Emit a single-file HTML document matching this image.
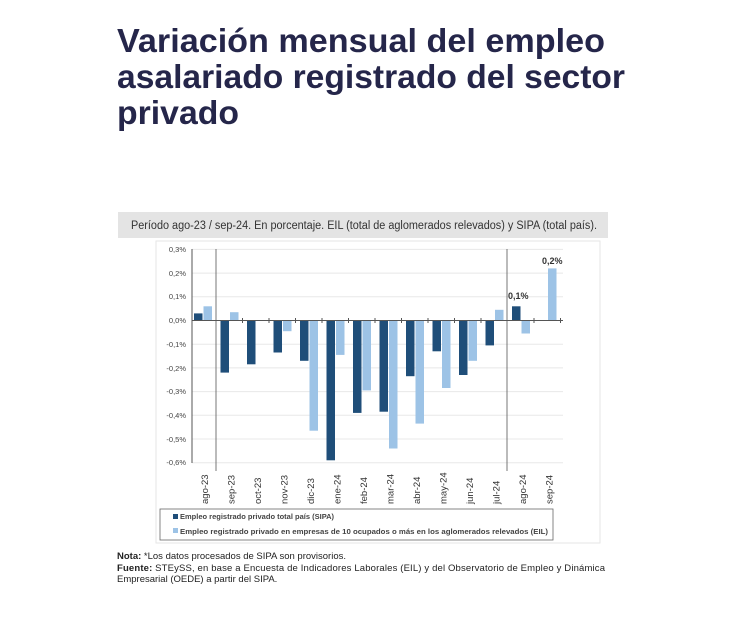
<!DOCTYPE html>
<html><head><meta charset="utf-8"><style>html,body{margin:0;padding:0;background:#fff;width:730px;height:622px;overflow:hidden}</style></head>
<body>
<svg width="730" height="622" viewBox="0 0 730 622" xmlns="http://www.w3.org/2000/svg" font-family="Liberation Sans, sans-serif">
<rect width="730" height="622" fill="#fff"/>
<g fill="#25264a" font-weight="bold" font-size="33">
<text x="117" y="52" textLength="488" lengthAdjust="spacingAndGlyphs">Variación mensual del empleo</text>
<text x="117" y="88" textLength="508" lengthAdjust="spacingAndGlyphs">asalariado registrado del sector</text>
<text x="117" y="124" textLength="122" lengthAdjust="spacingAndGlyphs">privado</text>
</g>
<rect x="118" y="212" width="490" height="26" fill="#e4e4e4"/>
<text x="131" y="229" font-size="11.5" fill="#333" textLength="466" lengthAdjust="spacingAndGlyphs">Período ago-23 / sep-24. En porcentaje. EIL (total de aglomerados relevados) y SIPA (total país).</text>
<rect x="156" y="241" width="444" height="302" fill="#fff" stroke="#e6e6e6"/>
<g stroke="#e8e8e8" stroke-width="1">
<line x1="192" x2="563" y1="249.4" y2="249.4"/><line x1="192" x2="563" y1="273.1" y2="273.1"/><line x1="192" x2="563" y1="296.8" y2="296.8"/>
<line x1="192" x2="563" y1="344.2" y2="344.2"/><line x1="192" x2="563" y1="367.9" y2="367.9"/><line x1="192" x2="563" y1="391.6" y2="391.6"/>
<line x1="192" x2="563" y1="415.3" y2="415.3"/><line x1="192" x2="563" y1="439" y2="439"/><line x1="192" x2="563" y1="462.7" y2="462.7"/>
</g>
<g font-size="7.5" fill="#444" text-anchor="end">
<text x="186" y="252">0,3%</text><text x="186" y="276">0,2%</text><text x="186" y="299">0,1%</text><text x="186" y="323">0,0%</text>
<text x="186" y="347">-0,1%</text><text x="186" y="371">-0,2%</text><text x="186" y="394">-0,3%</text><text x="186" y="418">-0,4%</text>
<text x="186" y="442">-0,5%</text><text x="186" y="465">-0,6%</text>
</g>
<line x1="192" x2="192" y1="249" y2="463" stroke="#555"/>
<line x1="216" x2="216" y1="249" y2="471" stroke="#555" stroke-width="0.8"/>
<line x1="507" x2="507" y1="249" y2="471" stroke="#555" stroke-width="0.8"/>
<g fill="#1f4e79">
<rect x="194" y="313.4" width="8.5" height="7.1"/>
<rect x="220.5" y="320.5" width="8.5" height="52.1"/>
<rect x="247" y="320.5" width="8.5" height="43.8"/>
<rect x="273.5" y="320.5" width="8.5" height="32"/>
<rect x="300" y="320.5" width="8.5" height="40.3"/>
<rect x="326.5" y="320.5" width="8.5" height="139.8"/>
<rect x="353" y="320.5" width="8.5" height="92.4"/>
<rect x="379.5" y="320.5" width="8.5" height="91.2"/>
<rect x="406" y="320.5" width="8.5" height="55.7"/>
<rect x="432.5" y="320.5" width="8.5" height="30.8"/>
<rect x="459" y="320.5" width="8.5" height="54.5"/>
<rect x="485.5" y="320.5" width="8.5" height="24.9"/>
<rect x="512" y="306.3" width="8.5" height="14.2"/>
</g>
<g fill="#9dc3e6">
<rect x="203.5" y="306.3" width="8.5" height="14.2"/>
<rect x="230" y="312.2" width="8.5" height="8.3"/>
<rect x="256.5" y="320" width="8.5" height="0.5"/>
<rect x="283" y="320.5" width="8.5" height="10.7"/>
<rect x="309.5" y="320.5" width="8.5" height="110.2"/>
<rect x="336" y="320.5" width="8.5" height="34.4"/>
<rect x="362.5" y="320.5" width="8.5" height="69.9"/>
<rect x="389" y="320.5" width="8.5" height="128"/>
<rect x="415.5" y="320.5" width="8.5" height="103.1"/>
<rect x="442" y="320.5" width="8.5" height="67.5"/>
<rect x="468.5" y="320.5" width="8.5" height="40.3"/>
<rect x="495" y="309.8" width="8.5" height="10.7"/>
<rect x="521.5" y="320.5" width="8.5" height="13"/>
<rect x="548" y="268.4" width="8.5" height="52.1"/>
</g>
<line x1="192" x2="563" y1="320.5" y2="320.5" stroke="#555"/>
<g stroke="#555">
<line x1="242.5" x2="242.5" y1="318" y2="323"/><line x1="269" x2="269" y1="318" y2="323"/><line x1="295.5" x2="295.5" y1="318" y2="323"/>
<line x1="322" x2="322" y1="318" y2="323"/><line x1="348.5" x2="348.5" y1="318" y2="323"/><line x1="375" x2="375" y1="318" y2="323"/>
<line x1="401.5" x2="401.5" y1="318" y2="323"/><line x1="428" x2="428" y1="318" y2="323"/><line x1="454.5" x2="454.5" y1="318" y2="323"/>
<line x1="481" x2="481" y1="318" y2="323"/><line x1="534" x2="534" y1="318" y2="323"/><line x1="560.5" x2="560.5" y1="318" y2="323"/>
</g>
<text x="508" y="299" font-size="9" font-weight="bold" fill="#333">0,1%</text>
<text x="542" y="264" font-size="9" font-weight="bold" fill="#333">0,2%</text>
<g font-size="9.5" fill="#333">
<text transform="translate(208,504) rotate(-90)">ago-23</text>
<text transform="translate(234.5,504) rotate(-90)">sep-23</text>
<text transform="translate(261,504) rotate(-90)">oct-23</text>
<text transform="translate(287.5,504) rotate(-90)">nov-23</text>
<text transform="translate(314,504) rotate(-90)">dic-23</text>
<text transform="translate(340.5,504) rotate(-90)">ene-24</text>
<text transform="translate(367,504) rotate(-90)">feb-24</text>
<text transform="translate(393.5,504) rotate(-90)">mar-24</text>
<text transform="translate(420,504) rotate(-90)">abr-24</text>
<text transform="translate(446.5,504) rotate(-90)">may-24</text>
<text transform="translate(473,504) rotate(-90)">jun-24</text>
<text transform="translate(499.5,504) rotate(-90)">jul-24</text>
<text transform="translate(526,504) rotate(-90)">ago-24</text>
<text transform="translate(552.5,504) rotate(-90)">sep-24</text>
</g>
<rect x="160" y="509" width="393" height="31" fill="#fff" stroke="#666" stroke-width="0.8"/>
<rect x="173" y="514" width="5" height="5" fill="#1f4e79"/>
<text x="180" y="519" font-size="7.5" font-weight="bold" fill="#444">Empleo registrado privado total país (SIPA)</text>
<rect x="173" y="528" width="5" height="5" fill="#9dc3e6"/>
<text x="180" y="534" font-size="7.5" font-weight="bold" fill="#444" textLength="368" lengthAdjust="spacingAndGlyphs">Empleo registrado privado en empresas de 10 ocupados o más en los aglomerados relevados (EIL)</text>
<text x="117" y="559" font-size="9.5" fill="#222"><tspan font-weight="bold">Nota:</tspan> *Los datos procesados de SIPA son provisorios.</text>
<text x="117" y="571" font-size="9.5" fill="#222" textLength="488" lengthAdjust="spacing"><tspan font-weight="bold">Fuente:</tspan> STEySS, en base a Encuesta de Indicadores Laborales (EIL) y del Observatorio de Empleo y Dinámica</text>
<text x="117" y="582" font-size="9.5" fill="#222">Empresarial (OEDE) a partir del SIPA.</text>
</svg>
</body></html>
